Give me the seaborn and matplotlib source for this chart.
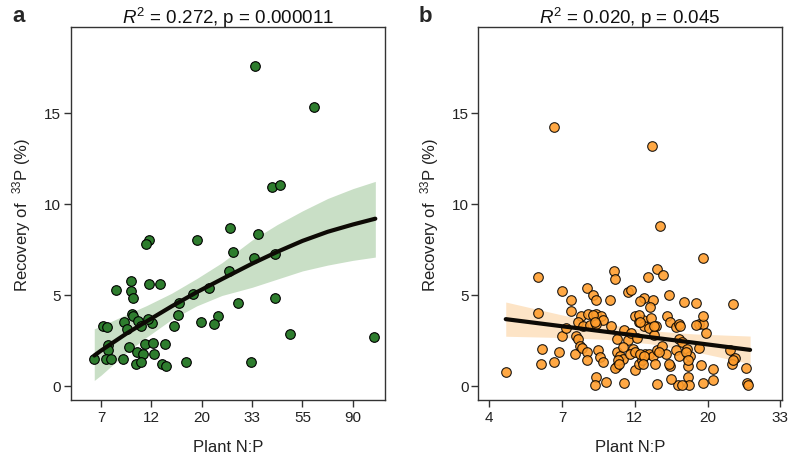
import numpy as np
import pandas as pd
import seaborn as sns
import matplotlib.pyplot as plt
from matplotlib.ticker import FixedLocator, FixedFormatter, NullLocator

sns.set_theme(style='white')
plt.rcParams['font.family'] = ['Liberation Sans', 'DejaVu Sans']
plt.rcParams['mathtext.fontset'] = 'custom'
plt.rcParams['mathtext.rm'] = 'Liberation Sans'
plt.rcParams['mathtext.it'] = 'Liberation Sans:italic'

# panel a: plant N:P vs recovery (green)
np_a = [34.1, 61.3, 40.4, 43.7, 26.6, 35.2, 11.9, 11.6, 19.1, 27.5, 33.7, 41.7, 26.2,
        9.92, 11.9, 13.3, 8.55, 10.0, 10.2, 21.5, 18.5, 16.1, 28.7, 41.6, 15.8, 23.7,
        10.1, 10.2, 9.31, 10.7, 11.0, 12.3, 11.8, 9.54, 7.56, 7.82, 15.3, 19.9, 22.7,
        7.94, 7.94, 9.79, 11.4, 12.4, 13.9, 6.91, 7.77, 8.14, 9.19, 10.6, 11.25, 12.5,
        10.5, 11.0, 13.6, 14.1, 17.1, 32.7, 48.1, 111.5]
rec_a = [17.57, 15.31, 10.89, 11.04, 8.66, 8.34, 7.98, 7.76, 7.98, 7.34, 7.01, 7.23, 6.29,
         5.74, 5.59, 5.58, 5.26, 5.19, 4.82, 5.37, 5.01, 4.55, 4.53, 4.82, 3.85, 3.83,
         3.91, 3.83, 3.49, 3.54, 3.30, 3.45, 3.67, 3.12, 3.30, 3.21, 3.27, 3.49, 3.41,
         2.24, 1.96, 2.11, 2.29, 2.35, 2.28, 1.47, 1.47, 1.47, 1.45, 1.83, 1.74, 1.71,
         1.16, 1.28, 1.16, 1.07, 1.28, 1.30, 2.81, 2.68]

# fitted curve and 95% band
fit_a_x = [6.91, 7.39, 9.49, 11.59, 14.88, 19.11, 24.53, 33.12, 42.52, 54.6, 70.1, 90.0, 112.5]
fit_a_y = [1.65, 1.92, 2.85, 3.52, 4.35, 5.13, 5.85, 6.70, 7.35, 7.95, 8.45, 8.85, 9.17]
fit_a_lo = [0.28, 0.57, 1.80, 2.65, 3.63, 4.38, 4.95, 5.40, 5.85, 6.30, 6.62, 6.88, 7.06]
fit_a_hi = [3.12, 3.27, 3.90, 4.39, 5.07, 5.88, 6.75, 8.00, 8.85, 9.60, 10.28, 10.82, 11.22]

# panel b: plant N:P vs recovery (orange)
np_b = [5.04, 6.25, 6.27, 6.44, 6.40, 7.41, 7.88, 7.88, 7.22, 7.41, 7.58, 8.07, 8.78,
        9.15, 9.32, 8.44, 8.84, 9.32, 9.69, 9.80, 8.25, 8.54, 8.94, 9.36, 8.12, 8.25,
        8.35, 8.50, 8.78, 9.47, 9.62, 9.80, 8.78, 9.36, 9.25, 10.03, 10.26, 10.55, 10.6,
        10.35, 10.75, 10.75, 10.99, 11.24, 10.79, 10.6, 11.64, 11.28, 11.64, 12.16, 11.35,
        7.0, 7.0, 13.7, 14.5,
        19.4, 14.2, 14.8, 13.3, 11.9, 15.4, 12.97, 13.8, 17.1, 18.5, 24.0, 12.2, 12.9,
        13.6, 12.5, 13.0, 13.4, 14.1, 15.2, 15.5, 16.2, 16.5, 18.9, 19.5, 19.5, 19.9,
        13.9, 11.9, 12.0, 11.8, 13.1, 13.4, 13.8, 14.2, 14.7, 15.1, 16.2, 16.5, 16.8,
        17.4, 17.8, 18.9, 23.4, 24.3, 23.8, 26.1, 26.3, 26.5, 15.5, 17.6, 19.2, 20.8,
        20.8, 19.5, 17.6, 17.7, 16.4, 16.8, 15.6, 14.2, 12.5, 12.8,
        11.2, 10.86, 12.5, 12.6, 13.9, 16.6, 18.6, 12.2, 12.6, 13.0, 14.4, 16.5, 17.3,
        17.6, 14.0, 15.4, 12.9, 10.9, 13.5, 12.6, 24.0, 9.15, 9.25, 12.4]
rec_b = [0.74, 5.98, 4.00, 2.02, 1.16, 5.17, 4.68, 4.07, 1.87, 2.72, 3.17, 1.71, 5.37,
         4.95, 4.68, 3.82, 3.94, 3.94, 3.82, 3.58, 3.52, 3.27, 3.34, 3.39, 2.75, 2.57,
         2.17, 2.06, 1.84, 1.93, 1.56, 1.32, 1.38, 0.46, 0.04, 0.19, 4.68, 6.27, 5.87,
         3.27, 2.57, 1.84, 1.65, 1.47, 1.05, 0.96, 5.14, 3.08, 2.48, 0.83, 0.15,
         1.32, 14.23, 13.18, 8.77,
         7.03, 6.38, 6.09, 5.96, 5.23, 5.00, 4.81, 4.68, 4.59, 4.55, 4.46, 3.82, 3.58,
         3.71, 3.49, 3.30, 3.16, 3.27, 3.82, 3.52, 3.21, 3.39, 3.39, 3.39, 3.82, 2.90,
         2.79, 2.90, 2.02, 1.74, 1.74, 1.74, 1.65, 1.93, 2.20, 1.74, 1.93, 2.57, 2.39,
         2.02, 1.62, 2.06, 1.93, 1.51, 1.19, 0.96, 0.15, 0.04, 1.10, 1.10, 1.14, 0.92,
         0.28, 0.15, 0.46, 0.04, 0.04, 0.04, 0.37, 0.06, 1.19, 1.38,
         2.11, 1.38, 3.85, 3.49, 3.30, 3.30, 3.34, 1.84, 1.74, 1.65, 1.87, 1.65, 1.84,
         1.38, 1.20, 1.20, 1.20, 1.20, 4.31, 4.62, 1.38, 3.89, 3.49, 2.60]

# fitted line and 95% band
fit_b_x = [5.02, 7.39, 9.97, 13.5, 18.2, 26.9]
fit_b_y = [3.65, 3.26, 2.96, 2.66, 2.36, 1.96]
fit_b_lo = [2.71, 2.64, 2.54, 2.30, 1.88, 1.20]
fit_b_hi = [4.59, 3.88, 3.38, 3.02, 2.84, 2.72]

titles = [r'$R^2$ = 0.272, p = 0.000011', r'$R^2$ = 0.020, p = 0.045']
tick_pos_a = np.exp(np.arange(2, 5, 0.5))
tick_pos_b = np.exp(np.arange(1.5, 4, 0.5))

df_a = pd.DataFrame({'np': np_a, 'rec': rec_a})
df_b = pd.DataFrame({'np': np_b, 'rec': rec_b})

fig = plt.figure(figsize=(8, 4.6), dpi=100)
ax1 = fig.add_axes([0.0884, 0.128, 0.393, 0.811])
ax2 = fig.add_axes([0.598, 0.128, 0.379, 0.811])

panels = [
    (ax1, df_a, '#2e7d2e', '#c9dfc6', fit_a_x, fit_a_y, fit_a_lo, fit_a_hi, tick_pos_a, (5.47, 124), 1.0),
    (ax2, df_b, '#ff9c2a', '#fde4c6', fit_b_x, fit_b_y, fit_b_lo, fit_b_hi, tick_pos_b, (4.16, 33.4), 0.88),
]

for i, (ax, d, col, bcol, fx, fy, flo, fhi, tpos, xl, al) in enumerate(panels):
    ax.set_xscale('log')
    ax.fill_between(fx, flo, fhi, color=bcol, lw=0, zorder=1)
    sns.scatterplot(data=d, x='np', y='rec', ax=ax, color=col, s=48,
                    edgecolor='black', linewidth=0.8, alpha=al, zorder=2)
    sns.lineplot(x=fx, y=fy, ax=ax, color='#0d0a05', lw=3, zorder=3)
    ax.set_xlim(*xl)
    ax.set_ylim(-0.8, 19.7)
    ax.xaxis.set_major_locator(FixedLocator(tpos))
    ax.xaxis.set_major_formatter(FixedFormatter([str(int(round(t))) for t in tpos]))
    ax.xaxis.set_minor_locator(NullLocator())
    ax.set_yticks([0, 5, 10, 15])
    ax.tick_params(axis='both', direction='out', length=5, width=1, color='#333333',
                   labelsize=11, labelcolor='#222222', bottom=True, left=True, pad=2)
    for sp in ax.spines.values():
        sp.set_color('#333333')
        sp.set_linewidth(1)
    ax.set_xlabel('Plant N:P', fontsize=12, labelpad=11, color='#222222')
    ax.set_ylabel(r'Recovery of  $^{33}$P (%)', fontsize=12, labelpad=8, color='#222222')
    ax.set_title(titles[i], fontsize=13.5, pad=3, color='#111111')

fig.text(0.015, 0.965, 'a', fontsize=16, fontweight='bold', va='center')
fig.text(0.523, 0.965, 'b', fontsize=16, fontweight='bold', va='center')

fig.savefig('out.png', dpi=100)
